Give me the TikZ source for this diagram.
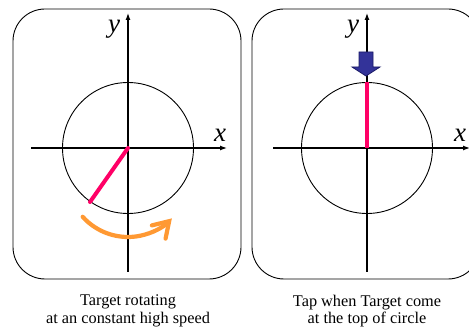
\documentclass[tikz,border=0pt]{standalone}
\usepackage{fontspec}
\setmainfont{Liberation Serif}
\usetikzlibrary{arrows.meta}
\definecolor{hotred}{HTML}{FF0066}
\definecolor{arcorange}{HTML}{FF9933}
\definecolor{tapblue}{HTML}{333399}
\definecolor{tapedge}{HTML}{1A1A66}
\begin{document}
\begin{tikzpicture}[x=1pt,y=-1pt,
  panel/.style={draw=black,line width=0.9pt,rounded corners=32pt},
  axis/.style={draw=black,line width=1.2pt,-{Latex[length=7pt,width=5pt]}},
  ring/.style={draw=black,line width=0.9pt},
  target/.style={draw=hotred,line width=4pt},
  axlabel/.style={font=\itshape\fontsize{27}{27}\selectfont,inner sep=0pt,anchor=base},
  caption/.style={font=\fontsize{16.3}{17.5}\selectfont,align=center,inner sep=0pt}]
\useasboundingbox (0,0) rectangle (469,328);
\clip (0,0) rectangle (469,328);
\fill[white] (0,0) rectangle (469,328);
% left panel
\draw[panel] (13,9) rectangle (241,279);
\coordinate (lo) at (128,148);
\coordinate (lyb) at (128,272);
\coordinate (lyt) at (128,13);
\coordinate (lxl) at (31,148);
\coordinate (lxr) at (227,148);
\draw[axis] (lyb) -- (lyt);
\draw[axis] (lxl) -- (lxr);
\draw[ring] (lo) circle[radius=65.5];
\coordinate (lend) at (90,202);
\draw[target,line cap=round] (lo) -- (lend);
\node[axlabel] (ly) at (114,33) {y};
\node[axlabel] (lx) at (220,142) {x};
\coordinate (arcc) at (128,176);
\draw[arcorange,line width=4.2pt,line cap=round,-{Straight Barb[length=15pt,width=19pt,line cap=round]}]
  (arcc) ++(138:61) arc[start angle=138,end angle=44,radius=61];
% right panel
\draw[panel] (252,9) rectangle (480,279);
\coordinate (ro) at (367,148);
\coordinate (ryb) at (367,272);
\coordinate (ryt) at (367,13);
\coordinate (rxl) at (273,148);
\coordinate (rxr) at (470,148);
\draw[axis] (ryb) -- (ryt);
\draw[axis] (rxl) -- (rxr);
\draw[ring] (ro) circle[radius=65.5];
\coordinate (rtop) at (367,82.5);
\draw[target] (ro) -- (rtop);
\node[axlabel] (ry) at (353,33) {y};
\node[axlabel] (rx) at (460,142) {x};
\draw[fill=tapblue,draw=tapedge,line width=0.8pt,line join=miter]
  (359,52) -- (373,52) -- (373,67) -- (380,67) -- (366,76) -- (352,67) -- (359,67) -- cycle;
% captions
\node[caption] (lcap) at (128,311) {Target rotating\\at an constant high speed};
\node[caption] (rcap) at (367,311) {Tap when Target come\\at the top of circle};
\end{tikzpicture}
\end{document}
